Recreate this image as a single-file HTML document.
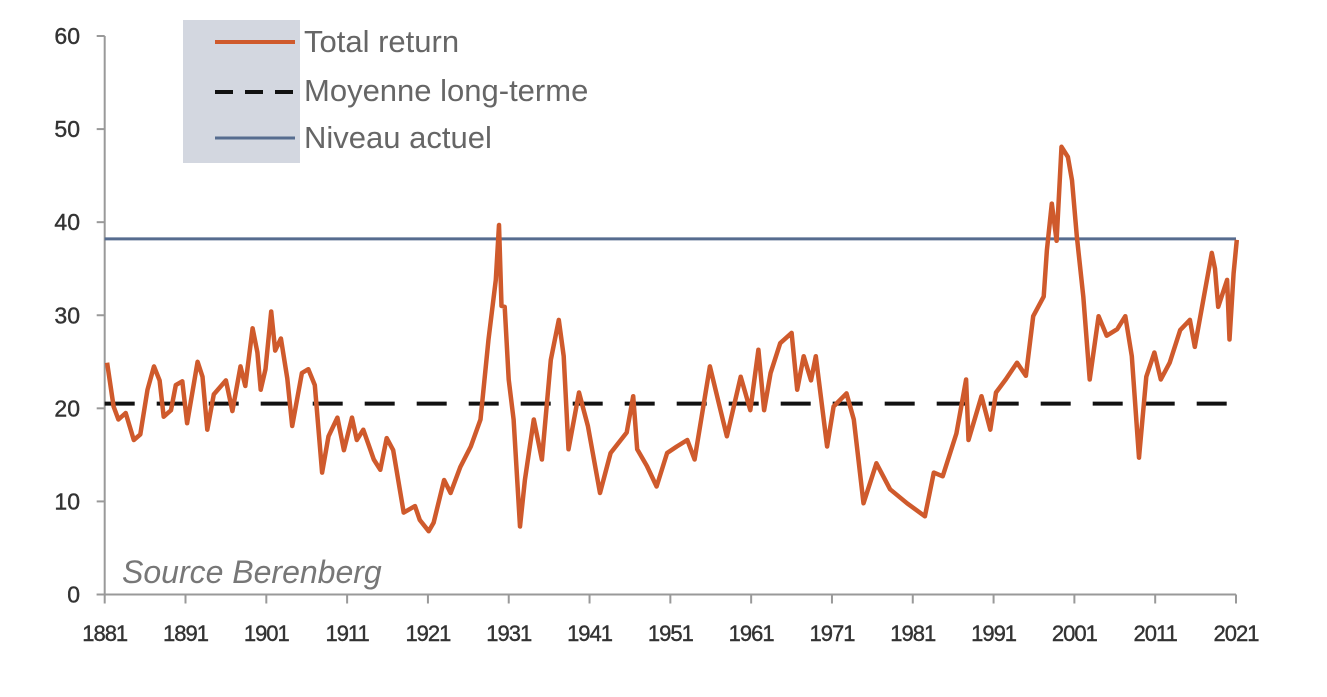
<!DOCTYPE html>
<html><head><meta charset="utf-8">
<style>
body{margin:0;background:#fff;}
svg{display:block;font-family:"Liberation Sans",Arial,sans-serif;}
</style></head>
<body>
<svg id="chart" width="1327" height="697" viewBox="0 0 1327 697" xmlns="http://www.w3.org/2000/svg">
<g id="axes"></g>
<g id="series"></g>
<g>
<rect x="183" y="20" width="117" height="143" fill="#d3d7e0"/>
<line x1="215" y1="42" x2="295" y2="42" stroke="#cf5a2c" stroke-width="4"/>
<text x="304" y="52" font-size="31" fill="#666">Total return</text>
<line x1="215" y1="92" x2="295" y2="92" stroke="#111" stroke-width="4" stroke-dasharray="18,12"/>
<text x="304" y="101" font-size="31" fill="#666">Moyenne long-terme</text>
<line x1="215" y1="138" x2="295" y2="138" stroke="#566c8f" stroke-width="3"/>
<text x="304" y="148" font-size="31" fill="#666">Niveau actuel</text>
</g>
<text x="122" y="583" font-size="32" font-style="italic" fill="#777">Source Berenberg</text>
</svg>
<script>
const years=[1881.3,1882.1,1882.7,1883.6,1884.6,1885.4,1886.3,1887.1,1887.8,1888.3,1889.2,1889.8,1890.6,1891.2,1892.5,1893.1,1893.7,1894.5,1896,1896.8,1897.8,1898.4,1899.3,1899.9,1900.3,1900.9,1901.6,1902.1,1902.8,1903.6,1904.2,1905.4,1906.2,1907,1907.9,1908.7,1909.8,1910.6,1911.6,1912.2,1913,1914.3,1915.1,1915.9,1916.7,1918,1919.4,1920,1921.1,1921.7,1923,1923.8,1925,1926.3,1927.5,1928.5,1929.4,1929.8,1930.1,1930.5,1931,1931.6,1932.4,1933,1934.1,1935.1,1936.2,1937.2,1937.8,1938.4,1939.7,1940.8,1942.3,1943.6,1945.6,1946.4,1946.9,1948.1,1949.3,1950.6,1951.8,1953.1,1954,1955.9,1957.2,1958,1959.7,1960.9,1961.9,1962.6,1963.4,1964.6,1966,1966.7,1967.5,1968.4,1969,1970.4,1971.2,1972.8,1973.7,1974.9,1976.5,1978.2,1980.3,1982.5,1983.6,1984.7,1986.4,1987.6,1987.9,1989.5,1990.6,1991.3,1992.5,1993.9,1995,1995.9,1997.2,1997.6,1998.2,1998.8,1999.4,2000.2,2000.7,2001.3,2002.1,2002.9,2004,2005,2006.3,2007.3,2008.1,2009,2009.9,2010.9,2011.7,2012.8,2014.1,2015.3,2015.9,2018,2018.4,2018.8,2019.9,2020.2,2020.7,2021.1];
const totalReturn=[24.9,20.2,18.8,19.5,16.6,17.2,22,24.5,23,19.1,19.8,22.5,22.9,18.4,25,23.4,17.7,21.5,23,19.7,24.5,22.4,28.6,26,22,24.2,30.4,26.2,27.5,23.2,18.1,23.8,24.2,22.5,13.1,17,19,15.5,19,16.6,17.7,14.5,13.4,16.8,15.5,8.8,9.5,8,6.8,7.7,12.3,10.9,13.7,15.9,18.8,27.4,33.8,39.7,31,30.9,23.1,18.8,7.3,12.3,18.8,14.5,25.2,29.5,25.6,15.6,21.7,18.1,10.9,15.2,17.4,21.3,15.6,13.8,11.6,15.2,15.9,16.6,14.5,24.5,19.8,17,23.4,19.8,26.3,19.8,23.8,27,28.1,22,25.6,23,25.6,15.9,20.2,21.6,18.8,9.8,14.1,11.3,9.8,8.4,13.1,12.7,17.3,23.1,16.6,21.3,17.7,21.7,23.1,24.9,23.5,29.9,32,37,42,38,48.1,47,44.5,38.5,32,23.1,29.9,27.8,28.5,29.9,25.6,14.7,23.4,26,23.1,24.9,28.4,29.5,26.6,36.7,35,30.9,33.8,27.4,34.5,38.1];
const longTermMean=20.5;
const currentLevel=38.2;
const yTicks=[0,10,20,30,40,50,60];
const xTicks=[1881,1891,1901,1911,1921,1931,1941,1951,1961,1971,1981,1991,2001,2011,2021];

const NS="http://www.w3.org/2000/svg";
const x0=104.7,x1=1236,y0=594.5,y1=36;
const xs=v=>x0+(v-1881)/(2021-1881)*(x1-x0);
const ys=v=>y0-(v/60)*(y0-y1);
function mk(tag,attrs,parent){const e=document.createElementNS(NS,tag);for(const k in attrs)e.setAttribute(k,attrs[k]);parent.appendChild(e);return e;}
const axes=document.getElementById('axes'),series=document.getElementById('series');
let e=mk('line',{x1:x0,y1:y1,x2:x0,y2:y0,stroke:'#999','stroke-width':2},axes);


e=mk('line',{x1:x0-8,y1:y0,x2:x1,y2:y0,stroke:'#999','stroke-width':2},axes);


yTicks.forEach(t=>{
 const tk=mk('line',{x1:x0-8,y1:ys(t),x2:x0,y2:ys(t),stroke:'#999','stroke-width':2},axes);
 
 
 const lb=mk('text',{x:80,y:ys(t)+8,'font-size':23,fill:'#333','text-anchor':'end','stroke':'#333','stroke-width':0.4},axes);
 lb.textContent=t;
 
 
});
xTicks.forEach(t=>{
 const tk=mk('line',{x1:xs(t),y1:y0,x2:xs(t),y2:y0+9,stroke:'#999','stroke-width':2},axes);
 
 
 const lb=mk('text',{x:xs(t),y:641,'font-size':22,fill:'#333','text-anchor':'middle','letter-spacing':'-1','stroke':'#333','stroke-width':0.4},axes);
 lb.textContent=t;
 
 
});
e=mk('line',{x1:x0,y1:ys(longTermMean),x2:x1,y2:ys(longTermMean),stroke:'#111','stroke-width':4,'stroke-dasharray':'30,22'},series);


e=mk('line',{x1:x0,y1:ys(currentLevel),x2:x1,y2:ys(currentLevel),stroke:'#566c8f','stroke-width':3},series);


const d=years.map((y,i)=>(i?'L':'M')+xs(y).toFixed(1)+','+ys(totalReturn[i]).toFixed(1)).join('');
e=mk('path',{d:d,fill:'none',stroke:'#cf5a2c','stroke-width':4.5,'stroke-linejoin':'round'},series);


</script>
</body></html>
